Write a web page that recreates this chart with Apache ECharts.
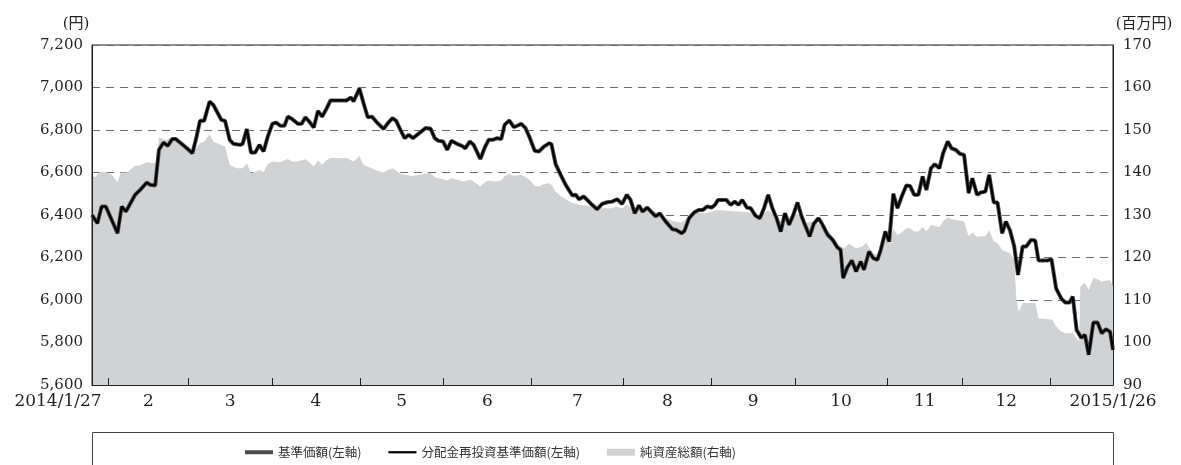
<!DOCTYPE html>
<html><head><meta charset="utf-8">
<script src="https://cdn.jsdelivr.net/npm/echarts@6/dist/echarts.min.js"></script>
<style>html,body{margin:0;padding:0;background:#fff}#c{width:1181px;height:465px}</style>
</head><body><div id="c"></div>
<script>
// x = trading-day index from 2014/1/27 (0) to 2015/1/26 (244)
const monthEndIdx = [4, 23, 43, 64, 84, 105, 127, 148, 168, 190, 208, 229];
const monthLabels = ['2','3','4','5','6','7','8','9','10','11','12'];
const startLabel = '2014/1/27';
const endLabel = '2015/1/26';
const lastIdx = 244;

// 基準価額 (円) [trading-day index, value]
const nav = [[0,6400],[1.3,6361],[2.3,6440],[3.3,6440],[4.7,6377],[6.1,6314],[7.1,6440],[8.1,6416],[10.3,6495],[11.5,6518],[13.1,6553],[13.9,6542],[15.1,6539],[16.0,6707],[17.1,6741],[18.1,6725],[19.2,6758],[20.0,6758],[22.2,6722],[24.0,6691],[25.0,6769],[25.8,6843],[26.8,6843],[28.1,6934],[29.0,6918],[30.9,6848],[31.8,6843],[32.9,6754],[33.8,6735],[35.4,6730],[36.0,6735],[37.0,6804],[38.0,6694],[39.0,6694],[40.0,6730],[41.0,6699],[42.0,6769],[43.1,6829],[44.0,6835],[45.0,6820],[46.0,6820],[46.8,6863],[47.8,6852],[49.2,6829],[50.1,6829],[51.0,6860],[51.9,6840],[53.0,6812],[54.0,6890],[55.0,6863],[55.9,6895],[57.0,6939],[58.9,6939],[60.8,6939],[61.9,6953],[62.5,6934],[63.9,6995],[64.9,6926],[65.9,6860],[66.9,6863],[68.1,6835],[69.7,6805],[70.7,6832],[71.8,6856],[72.7,6843],[73.7,6801],[74.7,6762],[75.7,6777],[76.7,6762],[78.2,6785],[79.7,6809],[80.9,6807],[81.9,6762],[82.8,6749],[83.9,6746],[84.9,6707],[85.9,6749],[87.2,6735],[88.4,6725],[89.2,6714],[90.3,6746],[91.2,6730],[92.8,6664],[93.9,6719],[94.8,6754],[95.8,6754],[96.8,6762],[97.8,6757],[98.6,6824],[99.7,6845],[100.8,6813],[101.6,6820],[102.6,6829],[103.6,6809],[104.5,6769],[105.8,6702],[106.8,6699],[108.0,6722],[109.3,6738],[109.8,6733],[110.8,6639],[112.0,6589],[113.2,6542],[114.8,6492],[115.6,6495],[116.4,6474],[117.5,6487],[118.5,6468],[119.5,6448],[120.7,6427],[121.9,6452],[123.1,6460],[124.3,6463],[125.5,6474],[126.7,6452],[127.8,6495],[128.7,6471],[129.7,6408],[130.7,6445],[131.6,6416],[132.7,6435],[134.7,6393],[135.7,6408],[137.1,6369],[138.7,6333],[139.6,6330],[140.9,6314],[141.6,6325],[142.7,6385],[143.9,6412],[145.0,6424],[146.0,6424],[147.0,6440],[148.1,6435],[148.9,6448],[149.6,6471],[151.6,6471],[152.6,6448],[153.6,6463],[154.5,6448],[155.4,6471],[156.5,6435],[157.4,6432],[158.6,6396],[159.6,6385],[160.6,6432],[161.6,6495],[162.6,6432],[163.6,6385],[164.6,6322],[165.6,6408],[166.6,6354],[167.6,6401],[168.6,6459],[169.6,6393],[170.6,6343],[171.5,6299],[172.5,6359],[173.6,6385],[174.6,6354],[175.8,6307],[177.0,6283],[178.1,6248],[178.9,6236],[179.5,6103],[180.5,6153],[181.6,6186],[182.6,6134],[183.7,6181],[184.5,6142],[185.7,6228],[186.7,6197],[187.7,6189],[188.5,6236],[189.6,6322],[190.5,6275],[191.5,6500],[192.5,6432],[193.5,6487],[194.6,6539],[195.5,6537],[196.5,6495],[197.5,6495],[198.5,6581],[199.4,6518],[200.5,6620],[201.4,6639],[202.5,6620],[203.4,6691],[204.5,6746],[205.4,6714],[206.4,6707],[207.4,6688],[208.4,6683],[209.5,6503],[210.4,6573],[211.5,6495],[212.4,6506],[213.5,6510],[214.4,6589],[215.5,6459],[216.4,6459],[217.5,6314],[218.4,6369],[219.4,6327],[220.4,6252],[221.3,6118],[222.4,6252],[223.3,6252],[224.4,6283],[225.4,6280],[226.2,6186],[227.2,6186],[228.4,6186],[229.3,6192],[230.4,6055],[231.6,6008],[232.6,5988],[233.6,5988],[234.4,6016],[235.3,5859],[236.4,5823],[237.3,5836],[238.2,5742],[239.3,5894],[240.3,5894],[241.3,5844],[242.3,5862],[243.3,5851],[244,5765]];

// 分配金再投資基準価額 (円): no distributions in the period, identical to 基準価額
const reinvestNav = nav;

// 純資産総額 (百万円)
const netAssets = [[0,139.5],[0.7,138.9],[1.9,140.2],[3.3,140.1],[4.7,139.5],[6.1,137.7],[6.9,140.0],[8.3,140.0],[10.3,141.6],[11.2,141.6],[13.1,142.4],[15.1,142.2],[15.6,142.2],[16.0,148.3],[17.5,147.7],[19.2,148.1],[22.2,146.1],[24.0,144.6],[25.8,146.9],[26.8,147.3],[28.1,149.0],[29.0,147.3],[30.9,146.5],[31.8,146.1],[32.9,141.8],[34.6,141.0],[36.0,141.0],[37.0,142.2],[38.0,139.9],[39.0,140.2],[40.0,140.6],[41.0,140.1],[42.0,142.0],[43.1,142.6],[45.0,142.4],[46.8,143.2],[47.8,142.6],[49.2,142.6],[51.0,143.1],[51.9,142.4],[53.0,141.4],[54.0,142.8],[55.0,141.8],[55.9,142.8],[57.0,143.4],[60.8,143.4],[62.5,142.6],[63.9,143.8],[64.9,141.8],[66.1,141.3],[68.1,140.5],[69.7,140.0],[70.7,140.6],[71.8,141.0],[72.7,140.5],[73.7,139.7],[74.7,139.5],[76.5,139.2],[78.2,139.5],[79.7,139.7],[80.9,139.9],[81.9,138.9],[83.7,138.5],[84.9,138.1],[85.9,138.7],[87.2,138.3],[88.8,137.9],[90.3,138.3],[91.2,137.9],[92.8,136.7],[93.9,137.7],[94.8,138.1],[96.4,137.9],[97.8,138.1],[98.6,139.1],[99.7,139.7],[100.8,139.2],[102.6,139.5],[103.6,138.9],[104.5,138.3],[105.8,136.9],[106.8,136.7],[108.0,137.3],[109.3,137.5],[109.8,137.1],[110.8,135.5],[112.0,134.5],[113.2,133.7],[114.8,132.8],[116.4,132.4],[118.5,132.2],[120.7,131.4],[121.9,131.6],[124.3,131.6],[125.1,132.0],[126.7,131.6],[127.8,132.4],[129.7,131.1],[132.7,131.2],[135.5,130.4],[137.1,129.3],[138.7,128.6],[140.9,128.2],[142.7,129.7],[145.0,130.6],[146.6,130.4],[149.6,131.2],[151.6,131.0],[154.5,130.8],[157.4,130.6],[159.6,129.7],[161.6,131.1],[163.4,129.7],[165.0,128.1],[166.6,128.9],[168.5,130.4],[170.5,128.1],[172.5,128.5],[174.6,127.3],[177.0,125.0],[178.9,122.6],[179.7,122.2],[180.9,123.2],[182.6,122.2],[184.1,122.6],[185.0,123.5],[186.7,121.0],[187.7,120.6],[188.5,121.8],[189.6,124.6],[190.5,123.4],[191.5,126.7],[192.5,125.3],[193.5,125.9],[194.6,126.9],[195.5,126.9],[196.5,126.1],[197.5,126.1],[198.5,127.2],[199.4,126.1],[200.5,127.7],[201.4,127.5],[202.5,127.2],[203.4,128.5],[204.5,129.5],[205.4,129.0],[206.4,128.9],[208.4,128.5],[209.5,125.0],[210.4,125.9],[211.5,124.8],[212.4,125.0],[213.5,125.0],[214.4,126.4],[215.5,123.8],[216.4,123.5],[217.5,121.8],[218.4,121.4],[219.4,121.0],[220.4,119.5],[220.9,110.1],[221.5,107.3],[222.4,109.3],[224.0,109.3],[225.4,109.3],[226.2,105.7],[228.4,105.5],[229.4,105.4],[230.4,103.8],[231.6,102.6],[232.6,102.2],[234.4,102.2],[235.3,101.0],[235.9,100.3],[236.2,113.2],[237.3,114.0],[238.2,112.4],[239.3,115.2],[240.3,114.9],[241.3,114.3],[242.3,114.6],[243.3,114.6],[244,113.2]];

const seriesNames = ['基準価額(左軸)', '分配金再投資基準価額(左軸)', '純資産総額(右軸)'];

// label positions: start, middle of each month, end
const labelPos = [0];
const labelText = {};
labelText[0] = startLabel;
for (let i = 0; i < monthLabels.length; i++) {
  const p = (monthEndIdx[i] + monthEndIdx[i + 1]) / 2;
  labelPos.push(p);
  labelText[p] = monthLabels[i];
}
labelPos.push(lastIdx);
labelText[lastIdx] = endLabel;

const serif = "'DejaVu Serif', 'Noto Sans CJK JP', serif";
const txt = '#231f20';

const chart = echarts.init(document.getElementById('c'), null, {renderer: 'canvas'});
chart.setOption({
  animation: false,
  backgroundColor: '#fff',
  grid: {left: 92, right: 68, top: 45, bottom: 80, show: true, borderColor: '#231f20', borderWidth: 1, backgroundColor: 'transparent'},
  graphic: [{
    type: 'rect', z: 0,
    shape: {x: 92.5, y: 432.5, width: 1021, height: 60},
    style: {fill: 'none', stroke: '#444', lineWidth: 1}
  }],
  legend: {
    left: 240, top: 441,
    itemWidth: 28, itemHeight: 7, itemGap: 27,
    selectedMode: false,
    textStyle: {fontFamily: "'Noto Sans CJK JP', sans-serif", fontSize: 12.5, color: '#333'},
    data: [
      {name: seriesNames[0], icon: 'path://M0,0H28V4H0Z'},
      {name: seriesNames[1], icon: 'path://M0,0H25V2H0Z'},
      {name: seriesNames[2], icon: 'rect'}
    ]
  },
  xAxis: {
    type: 'value', min: 0, max: lastIdx, z: 5,
    axisLine: {lineStyle: {color: '#231f20', width: 1}},
    axisTick: {show: true, inside: true, length: 7, customValues: monthEndIdx, lineStyle: {color: '#231f20'}},
    splitLine: {show: false},
    axisLabel: {
      customValues: labelPos, margin: 8, color: txt, fontFamily: serif, fontSize: 17,
      formatter: v => v === 0 ? '{l|' + labelText[v] + '}' : (labelText[v] || ''),
      rich: {l: {fontFamily: serif, fontSize: 17, color: txt, padding: [0, 68, 0, 0]}}
    }
  },
  yAxis: [{
    type: 'value', position: 'left', min: 5600, max: 7200, interval: 200, z: 5,
    name: '(円)', nameLocation: 'end', nameGap: 13,
    nameTextStyle: {fontFamily: serif, fontSize: 15, color: txt, padding: [0, 32, 0, 0]},
    axisLine: {show: true, lineStyle: {color: '#231f20'}},
    axisTick: {show: false},
    splitLine: {show: false},
    axisLabel: {margin: 9, color: txt, fontFamily: serif, fontSize: 15, formatter: v => v.toLocaleString('en-US')}
  }, {
    type: 'value', position: 'right', min: 90, max: 170, interval: 10, z: 5,
    name: '(百万円)', nameLocation: 'end', nameGap: 13,
    nameTextStyle: {fontFamily: serif, fontSize: 15, color: txt, padding: [0, 0, 0, 62]},
    axisLine: {show: true, lineStyle: {color: '#231f20'}},
    axisTick: {show: false},
    splitLine: {show: false},
    axisLabel: {margin: 10, color: txt, fontFamily: serif, fontSize: 15}
  }, {
    type: 'value', position: 'left', min: 5600, max: 7200, interval: 200, z: 0,
    axisLine: {show: false}, axisTick: {show: false}, axisLabel: {show: false},
    splitLine: {show: true, lineStyle: {color: '#6d6e71', width: 1, type: [8, 6]}}
  }],
  series: [{
    name: seriesNames[2], type: 'line', yAxisIndex: 1, data: netAssets,
    symbol: 'none', color: '#d1d2d4', z: 1,
    lineStyle: {width: 0, color: '#d1d2d4'},
    areaStyle: {color: '#d1d2d4', opacity: 1}
  }, {
    name: seriesNames[0], type: 'line', yAxisIndex: 0, data: nav,
    symbol: 'none', color: '#4d4d4f', z: 3,
    lineStyle: {width: 4, color: '#4d4d4f'}
  }, {
    name: seriesNames[1], type: 'line', yAxisIndex: 0, data: reinvestNav,
    symbol: 'none', color: '#000', z: 4,
    lineStyle: {width: 2.2, color: '#000'}
  }]
});
</script>
</body></html>
